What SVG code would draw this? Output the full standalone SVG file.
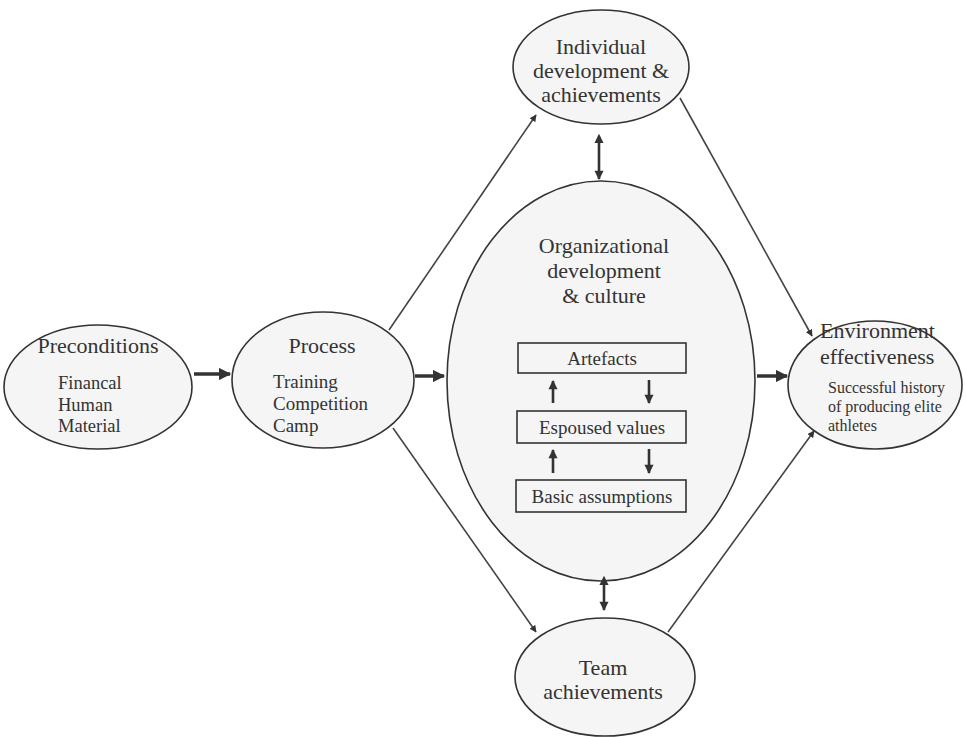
<svg xmlns="http://www.w3.org/2000/svg" width="966" height="737" viewBox="0 0 966 737" font-family="'Liberation Serif', 'DejaVu Serif', serif">
<defs>
<style>
.node ellipse{fill:#f5f5f5;stroke:#333;stroke-width:1.6}
.box{fill:#f5f5f5;stroke:#333;stroke-width:1.6}
text{font-family:'Liberation Serif','DejaVu Serif',serif;fill:#333}
.t{font-size:22px;text-anchor:middle}
.s{font-size:18.5px}
.b{font-size:19px;text-anchor:middle}
.sm{font-size:16px}
.thin{stroke:#444;stroke-width:1.6;fill:none}
.thick{stroke:#333;stroke-width:3.5;fill:none}
.mid{stroke:#333;stroke-width:2.6;fill:none}
</style>
<marker id="ah" viewBox="0 0 10 10" refX="9" refY="5" markerWidth="7" markerHeight="7" orient="auto" markerUnits="userSpaceOnUse"><path d="M0,0 L10,5 L0,10 z" fill="#333"/></marker>
<marker id="ahb" viewBox="0 0 10 10" refX="9" refY="5" markerWidth="4" markerHeight="3.5" orient="auto" markerUnits="strokeWidth"><path d="M0,0 L10,5 L0,10 z" fill="#333"/></marker>
<marker id="ahs" viewBox="0 0 10 10" refX="1" refY="5" markerWidth="4" markerHeight="3.5" orient="auto-start-reverse" markerUnits="strokeWidth"><path d="M0,0 L10,5 L0,10 z" fill="#333"/></marker>
</defs>
<rect width="966" height="737" fill="#fff"/>

<g id="preconditions" class="node">
<ellipse cx="98" cy="387" rx="94" ry="62"/>
<text class="t" x="98" y="353">Preconditions</text>
<text class="s" x="58" y="389">Financal</text>
<text class="s" x="58" y="411">Human</text>
<text class="s" x="58" y="432">Material</text>
</g>

<g id="process" class="node">
<ellipse cx="323" cy="380" rx="91" ry="68"/>
<text class="t" x="322" y="353">Process</text>
<text class="s" x="273" y="388" style="font-size:19px">Training</text>
<text class="s" x="273" y="410" style="font-size:19px">Competition</text>
<text class="s" x="273" y="432" style="font-size:19px">Camp</text>
</g>

<g id="individual" class="node">
<ellipse cx="601" cy="67" rx="88" ry="57"/>
<text class="t" x="601" y="54">Individual</text>
<text class="t" x="601" y="78">development &amp;</text>
<text class="t" x="601" y="102">achievements</text>
</g>

<g id="organizational" class="node">
<ellipse cx="601" cy="381" rx="154" ry="200"/>
<text class="t" x="604" y="253">Organizational</text>
<text class="t" x="604" y="278">development</text>
<text class="t" x="604" y="303">&amp; culture</text>
</g>

<g id="artefacts">
<rect class="box" x="518" y="343" width="168" height="30"/>
<text class="b" x="602" y="365">Artefacts</text>
</g>
<g id="espoused">
<rect class="box" x="517" y="411" width="169" height="32"/>
<text class="b" x="602" y="434">Espoused values</text>
</g>
<g id="basic">
<rect class="box" x="516" y="480" width="170" height="32"/>
<text class="b" x="602" y="503">Basic assumptions</text>
</g>

<g id="team" class="node">
<ellipse cx="605" cy="677" rx="90" ry="59"/>
<text class="t" x="603" y="675">Team</text>
<text class="t" x="603" y="699">achievements</text>
</g>

<g id="environment" class="node">
<ellipse cx="875" cy="385" rx="87" ry="64"/>
<text x="820" y="338" style="font-size:22px">Environment</text>
<text x="820" y="364" style="font-size:22px">effectiveness</text>
<text class="sm" x="828" y="393">Successful history</text>
<text class="sm" x="828" y="412">of producing elite</text>
<text class="sm" x="828" y="431">athletes</text>
</g>

<g id="connectors">
<line class="thick" x1="194" y1="374" x2="230" y2="374" marker-end="url(#ahb)"/>
<line class="thick" x1="415" y1="376" x2="444" y2="376" marker-end="url(#ahb)"/>
<line class="thick" x1="757" y1="376" x2="787" y2="376" marker-end="url(#ahb)"/>
<line class="thin" x1="389" y1="330" x2="536" y2="115" marker-end="url(#ah)"/>
<line class="thin" x1="393" y1="428" x2="536" y2="632" marker-end="url(#ah)"/>
<line class="thin" x1="680" y1="98" x2="812" y2="336" marker-end="url(#ah)"/>
<line class="thin" x1="668" y1="632" x2="814" y2="431" marker-end="url(#ah)"/>
<line class="mid" x1="599" y1="142" x2="599" y2="179" marker-start="url(#ahs)" marker-end="url(#ahb)"/>
<line class="mid" x1="604" y1="584" x2="604" y2="610" marker-start="url(#ahs)" marker-end="url(#ahb)"/>
<line class="mid" x1="553" y1="403" x2="553" y2="381" marker-end="url(#ahb)"/>
<line class="mid" x1="649" y1="380" x2="649" y2="403" marker-end="url(#ahb)"/>
<line class="mid" x1="553" y1="473" x2="553" y2="450" marker-end="url(#ahb)"/>
<line class="mid" x1="649" y1="449" x2="649" y2="473" marker-end="url(#ahb)"/>
</g>
</svg>
